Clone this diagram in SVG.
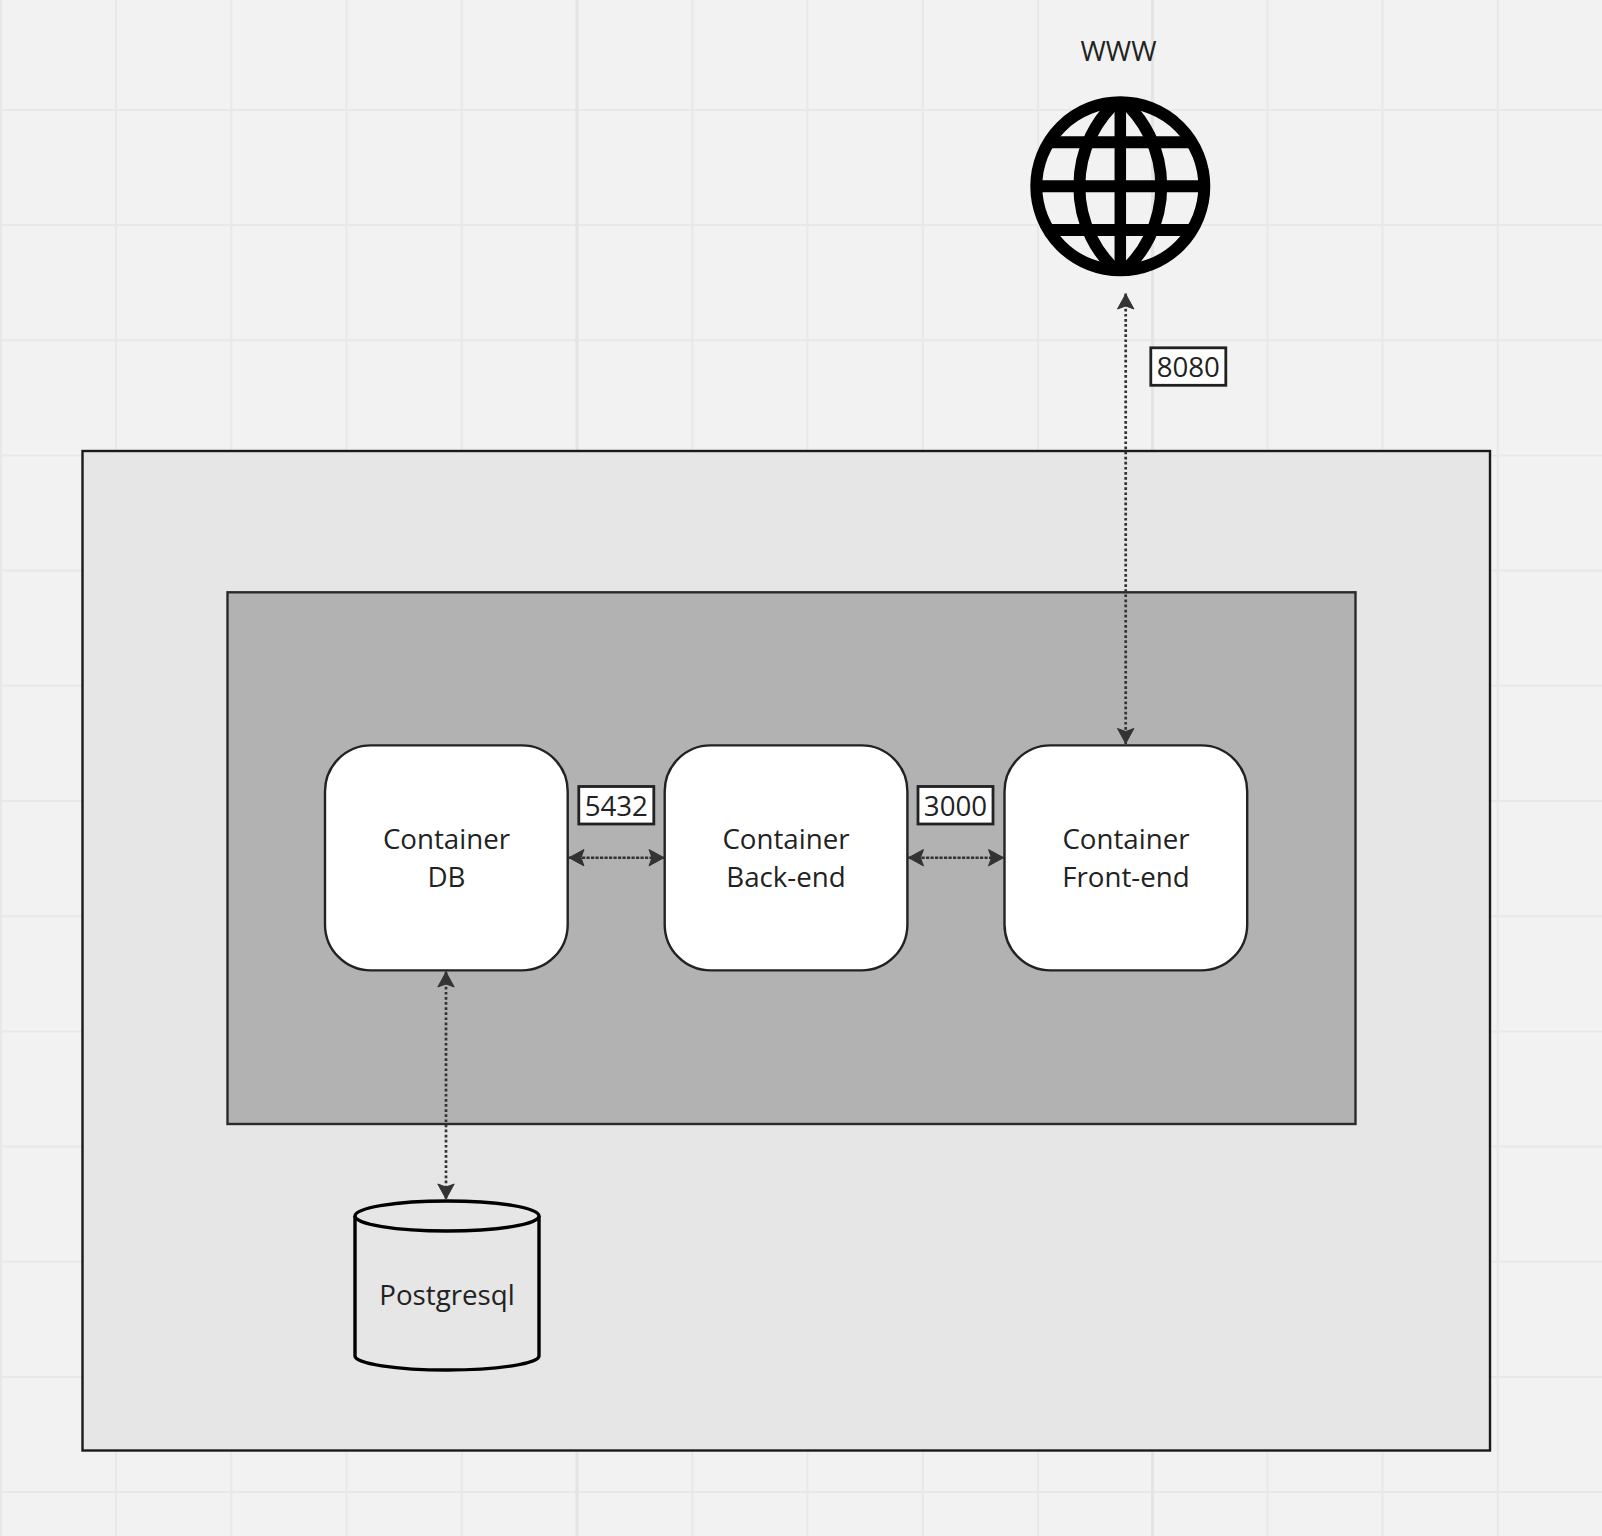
<svg xmlns="http://www.w3.org/2000/svg" width="1602" height="1536" viewBox="0 0 1602 1536">
<style>
.grid{stroke:#e8e8e8;stroke-width:2;fill:none}
.major{stroke:#e4e4e4;stroke-width:3;fill:none}
.t{font-family:"Open Sans","Noto Sans",sans-serif;font-size:27.7px;fill:#222;text-anchor:middle}
.card{fill:#fff;stroke:#222;stroke-width:2.4}
.lab{fill:#fff;stroke:#222;stroke-width:2.8}
.conn{stroke:#333;stroke-width:2.7;stroke-dasharray:2.7 2.4;fill:none;marker-start:url(#arrow);marker-end:url(#arrow)}
.conn2{stroke:#333;stroke-width:2.4;stroke-dasharray:3.2 1.3;fill:none;marker-start:url(#arrow);marker-end:url(#arrow)}
.globe{fill:none;stroke:#000;stroke-width:12}
</style>
<defs>
<marker id="arrow" markerUnits="userSpaceOnUse" markerWidth="18" markerHeight="20" viewBox="0 0 18 20" refX="17" refY="10" orient="auto-start-reverse">
<path d="M16.5 10L1.5 1.8L4.5 10L1.5 18.2Z" fill="#333" stroke="#333" stroke-width="1" stroke-linejoin="round"/>
</marker>
<clipPath id="gc"><circle cx="1120.3" cy="186.3" r="85"/></clipPath>
</defs>
<rect width="1602" height="1536" fill="#f2f2f2"/>
<g id="grid">
<path class="grid" d="M1 0V1536M116 0V1536M231.3 0V1536M346.5 0V1536M461.8 0V1536M692.3 0V1536M807.5 0V1536M922.8 0V1536M1038 0V1536M1267.5 0V1536M1382.5 0V1536M1497.8 0V1536"/>
<path class="grid" d="M0 110H1602M0 225H1602M0 340.2H1602M0 455.4H1602M0 570.6H1602M0 685.8H1602M0 801H1602M0 916.2H1602M0 1031.4H1602M0 1146.6H1602M0 1261.8H1602M0 1377H1602M0 1492H1602"/>
<path class="major" d="M577 0V1536M1152.5 0V1536"/>
</g>
<g id="host"><rect x="82.5" y="451" width="1407.5" height="999.5" fill="#e6e6e6" stroke="#1a1a1a" stroke-width="2.4"/></g>
<g id="network"><rect x="227.5" y="592.3" width="1128" height="531.7" fill="#b2b2b2" stroke="#2a2a2a" stroke-width="2.4"/></g>
<g id="globe">
<circle class="globe" cx="1120.3" cy="186.3" r="84"/>
<g clip-path="url(#gc)">
<path class="globe" style="stroke-width:11.5" d="M1120.3 102V270"/>
<path class="globe" d="M1036 142.3H1205M1036 186.3H1205M1036 230H1205"/>
<path class="globe" d="M1120.3 98.3A115 115 0 0 0 1120.3 274.3A115 115 0 0 0 1120.3 98.3Z"/>
</g>
</g>
<g id="www"><text class="t" x="1118.5" y="60.5" style="font-size:27.4px">WWW</text></g>
<g id="container-db">
<rect class="card" x="325" y="745.4" width="242.7" height="225" rx="46"/>
<text class="t" x="446.5" y="849">Container</text>
<text class="t" x="446.5" y="886.7">DB</text>
</g>
<g id="container-backend">
<rect class="card" x="664.7" y="745.4" width="242.7" height="225" rx="46"/>
<text class="t" x="786" y="849">Container</text>
<text class="t" x="786" y="886.7">Back-end</text>
</g>
<g id="container-frontend">
<rect class="card" x="1004.5" y="745.4" width="242.7" height="225" rx="46"/>
<text class="t" x="1126" y="849">Container</text>
<text class="t" x="1126" y="886.7">Front-end</text>
</g>
<g id="postgresql">
<path d="M355 1216V1356C355 1363.5 396 1370 447 1370S539 1363.5 539 1356V1216" fill="none" stroke="#000" stroke-width="3.4"/>
<ellipse cx="447" cy="1216" rx="92" ry="15" fill="none" stroke="#000" stroke-width="3.4"/>
<text class="t" x="447" y="1305">Postgresql</text>
</g>
<g id="connectors">
<line class="conn" x1="1125.7" y1="293.5" x2="1125.7" y2="744"/>
<line class="conn" x1="446" y1="971.5" x2="446" y2="1199.5"/>
<line class="conn2" x1="568.5" y1="857.7" x2="664.5" y2="857.7"/>
<line class="conn2" x1="908" y1="857.7" x2="1004" y2="857.7"/>
</g>
<g id="label-5432">
<rect class="lab" x="578.8" y="786.5" width="75" height="37.5"/>
<text class="t" x="616.3" y="816">5432</text>
</g>
<g id="label-3000">
<rect class="lab" x="918" y="786.5" width="75" height="37.5"/>
<text class="t" x="955.5" y="816">3000</text>
</g>
<g id="label-8080">
<rect class="lab" x="1150.8" y="347.8" width="75" height="37.5"/>
<text class="t" x="1188.3" y="376.5">8080</text>
</g>
</svg>
